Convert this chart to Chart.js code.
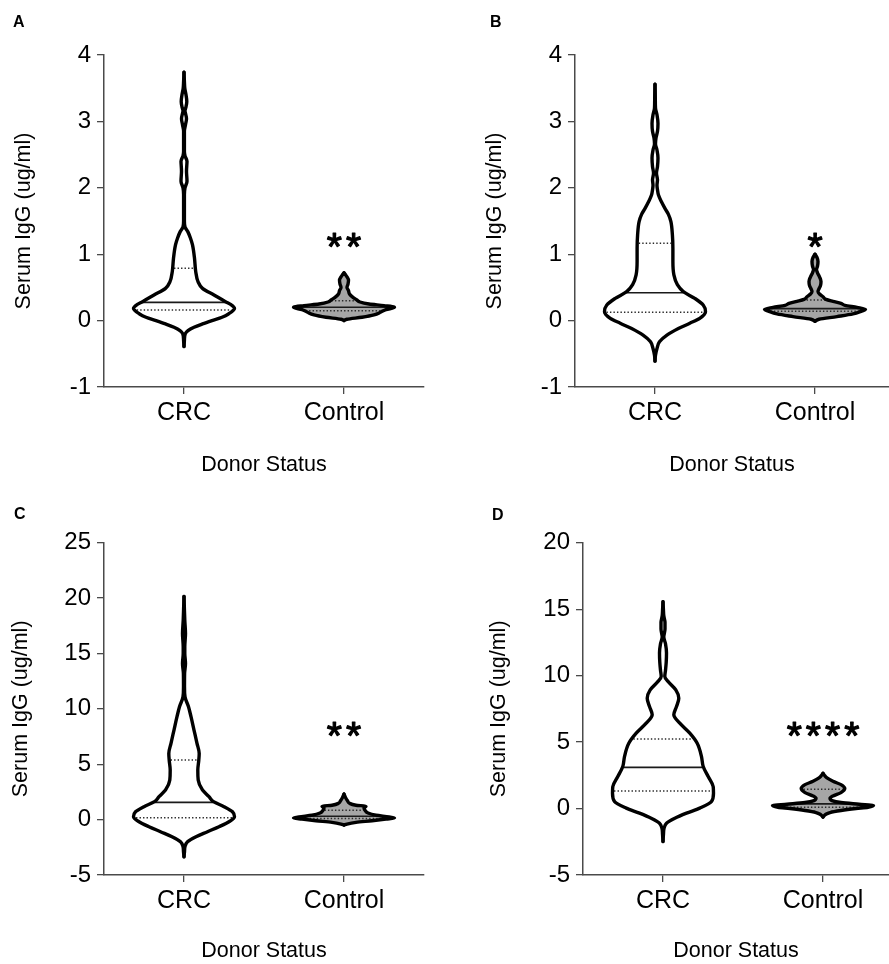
<!DOCTYPE html>
<html><head><meta charset="utf-8">
<script src="https://cdn.jsdelivr.net/npm/chart.js@4/dist/chart.umd.min.js"></script>
<style>
html,body{margin:0;padding:0;background:#fff;width:889px;height:964px;overflow:hidden;}
canvas{position:absolute;}
.lbl{position:absolute;font:bold 16px "Liberation Sans",Arial,sans-serif;line-height:16px;color:#000;}
</style></head><body>
<canvas id="cA" width="445" height="480" style="left:0;top:0"></canvas>
<canvas id="cB" width="444" height="480" style="left:445px;top:0"></canvas>
<canvas id="cC" width="445" height="484" style="left:0;top:480px"></canvas>
<canvas id="cD" width="444" height="484" style="left:445px;top:480px"></canvas>
<div class="lbl" style="left:13px;top:14px">A</div>
<div class="lbl" style="left:490px;top:14px">B</div>
<div class="lbl" style="left:14px;top:506px">C</div>
<div class="lbl" style="left:492px;top:507px">D</div>
<script>
// ---------- data ----------
const categories = ['CRC', 'Control'];
const categoryX = [0.5, 1.5];
const yAxisTitle = 'Serum IgG (ug/ml)';
const xAxisTitle = 'Donor Status';
const panelLetters = ['A', 'B', 'C', 'D'];
const yMin = [-1, -1, -5, -5];
const yMax = [4, 4, 25, 20];
const yStep = [1, 1, 5, 5];
const sigLabels = ['**', '*', '**', '****'];
const sigY = [1.24, 1.24, 8.38, 6.15];

// violin density profiles (value levels and relative density)
const aCrcLevels = [-0.39,-0.3,-0.2,-0.15,-0.1,-0.05,0,0.05,0.1,0.185,0.24,0.285,0.385,0.486,0.587,0.74,0.94,1.14,1.24,1.34,1.41,1.5,1.9,2.0,2.1,2.25,2.4,2.48,2.55,2.85,2.95,3.04,3.12,3.16,3.22,3.3,3.4,3.5,3.6,3.74];
const aCrcDensity = [0,0.4,1.2,4,10,18.5,28,38,44.5,50.5,47,41.5,30,18.5,14,11.7,10.5,8.5,6.5,3.8,1,0.4,0.4,1,3,2.5,3,1,0.4,0.4,1.5,2.5,1.5,1,2,2.8,2,0.8,0.4,0];
const aCtlLevels = [0,0.02,0.05,0.085,0.13,0.165,0.2,0.225,0.25,0.28,0.31,0.35,0.4,0.45,0.5,0.55,0.61,0.66,0.7,0.72];
const aCtlDensity = [0,3,18,30,37,42,50.5,40,25,16,13,9,5.5,4.5,3,4,4.5,3,1,0];
const bCrcLevels = [-0.61,-0.52,-0.42,-0.32,-0.22,-0.12,-0.04,0.034,0.134,0.235,0.335,0.435,0.54,0.69,0.89,1.09,1.29,1.49,1.6,1.69,1.79,1.89,1.97,2.04,2.12,2.22,2.32,2.45,2.57,2.66,2.75,2.85,2.97,3.1,3.2,3.35,3.56];
const bCrcDensity = [0,0.5,2,4.5,12,23.5,35,45,50.8,48.5,40,28.5,22.5,19,18,18,17.5,16,13.5,10,6.5,3.5,2.5,2,2.5,1.5,2.5,3,2,0.5,1,2.5,3,2,0.5,0.3,0];
const bCtlLevels = [-0.01,0.02,0.06,0.1,0.14,0.17,0.2,0.23,0.26,0.29,0.32,0.36,0.4,0.44,0.48,0.53,0.59,0.66,0.72,0.77,0.82,0.89,0.95,1.0];
const bCtlDensity = [0,4,22,38,46,50.5,42,30,26,18,11,8,4.5,3,4,5.5,6,4.5,2.5,1.5,2.5,3,2,0];
const cCrcLevels = [-3.35,-2.9,-2.44,-2.0,-1.54,-1.09,-0.64,-0.19,0.26,0.71,1.17,1.62,2.07,2.67,3.57,4.48,5.38,5.98,6.89,8.09,9.29,10.19,11.09,12.0,13.2,14.1,15.0,15.6,16.8,18.0,19.0,20.15];
const cCrcDensity = [0,0.5,1,3.5,12,23.5,35,45,50.5,48.5,40,29.5,25,18.5,14.2,13.8,14.8,15.2,13,10,7,4.5,1,0.5,0.6,1.5,0.8,0.8,1.5,0.8,0.4,0];
const cCtlLevels = [-0.49,-0.4,-0.25,-0.1,0.05,0.15,0.25,0.4,0.6,0.85,1.05,1.2,1.3,1.47,1.7,2.0,2.3];
const cCtlDensity = [0,3,12,28,42,50.5,45,32,24,21,20,22,12,5.5,3.5,1.5,0];
const dCrcLevels = [-2.48,-1.9,-1.5,-1.1,-0.73,-0.35,0.03,0.53,1.15,1.65,2.41,3.16,3.91,4.91,5.67,6.42,7.05,7.67,8.3,8.93,9.55,9.93,10.4,11.0,11.7,12.4,12.9,13.5,14.0,14.5,15.0,15.56];
const dCrcDensity = [0,0.5,1,3.5,11.8,23.5,36.8,48.5,50.5,50.2,45.2,40.2,38.5,34.2,26.8,16.8,10.8,13.5,15.8,12.8,5.2,1.8,2.5,3.2,3.5,2.5,0.8,2,2,0.8,0.4,0];
const dCtlLevels = [-0.64,-0.45,-0.3,-0.15,0.0,0.1,0.22,0.32,0.45,0.6,0.77,0.95,1.2,1.52,1.8,2.05,2.3,2.45,2.65];
const dCtlDensity = [0,2.5,7,18,33,45,50.5,36,18,9,7,10,18,21.8,18,10,4,2,0];

// quartiles / medians [CRC, Control]
const aQ1 = [0.16, 0.15], aMedian = [0.275, 0.2], aQ3 = [0.79, 0.30];
const bQ1 = [0.125, 0.14], bMedian = [0.42, 0.18], bQ3 = [1.164, 0.31];
const cQ1 = [0.17, 0.1], cMedian = [1.56, 0.3], cQ3 = [5.38, 0.85];
const dQ1 = [1.32, 0.1], dMedian = [3.1, 0.35], dQ3 = [5.23, 1.45];

// ---------- style / layout ----------
const FONT = '"Liberation Sans", Arial, sans-serif';
const AXIS_COLOR = '#4a4a4a';
const FILLS = ['#ffffff', '#a6a6a6'];
const VIOLIN_HALF = 0.3156; // max half-width in x units
const layouts = [
  {id: 'cA', xMax: 2, padL: 0, yW: 104, titlePad: 11.5, padT: 55, padR: 21, xH: 93, xTitlePad: 2},
  {id: 'cB', xMax: 1.9625, padL: 26, yW: 104, titlePad: 11.5, padT: 55, padR: 0, xH: 93, xTitlePad: 2},
  {id: 'cC', xMax: 2, padL: 0, yW: 104, titlePad: 8.5, padT: 62.7, padR: 21, xH: 89, xTitlePad: 0},
  {id: 'cD', xMax: 1.9125, padL: 29.5, yW: 108.5, titlePad: 11.5, padT: 62.7, padR: 0, xH: 89, xTitlePad: 0}
];

const violinSets = [
  [[aCrcLevels, aCrcDensity], [aCtlLevels, aCtlDensity]],
  [[bCrcLevels, bCrcDensity], [bCtlLevels, bCtlDensity]],
  [[cCrcLevels, cCrcDensity], [cCtlLevels, cCtlDensity]],
  [[dCrcLevels, dCrcDensity], [dCtlLevels, dCtlDensity]]
];
const statSets = [[aQ1, aMedian, aQ3], [bQ1, bMedian, bQ3], [cQ1, cMedian, cQ3], [dQ1, dMedian, dQ3]];

function widthAt(levels, dens, v) {
  const mx = Math.max(...dens);
  for (let i = 0; i < levels.length - 1; i++) {
    if (v >= levels[i] && v <= levels[i + 1]) {
      const t = (v - levels[i]) / (levels[i + 1] - levels[i]);
      return (dens[i] + t * (dens[i + 1] - dens[i])) / mx;
    }
  }
  return 0;
}

function buildDatasets(p) {
  const ds = [];
  violinSets[p].forEach(([levels, dens], k) => {
    const cx = categoryX[k];
    const mx = Math.max(...dens);
    const base = {type: 'line', pointRadius: 0, borderColor: '#000', borderWidth: 3.4,
      cubicInterpolationMode: 'monotone', order: 0, borderJoinStyle: 'round', borderCapStyle: 'round'};
    ds.push(Object.assign({}, base, {
      data: levels.map((v, i) => ({x: cx + dens[i] / mx * VIOLIN_HALF, y: v})), fill: false}));
    ds.push(Object.assign({}, base, {
      data: levels.map((v, i) => ({x: cx - dens[i] / mx * VIOLIN_HALF, y: v})),
      fill: '-1', backgroundColor: FILLS[k]}));
    const [q1, med, q3] = statSets[p];
    [[q1[k], true], [med[k], false], [q3[k], true]].forEach(([v, dotted]) => {
      const hw = Math.max(widthAt(levels, dens, v) * VIOLIN_HALF - 0.009, 0);
      ds.push({type: 'line', order: 1, pointRadius: 0, fill: false, tension: 0,
        borderColor: dotted ? '#2a2a2a' : '#1a1a1a', borderWidth: dotted ? 1.5 : 1.6,
        borderDash: dotted ? [1.4, 2.1] : [],
        data: [{x: cx - hw, y: v}, {x: cx + hw, y: v}]});
    });
  });
  return ds;
}

const sigPlugin = {
  id: 'sig',
  afterDatasetsDraw(chart, args, opts) {
    const {ctx, scales} = chart;
    const px = scales.x.getPixelForValue(categoryX[1]);
    const py = scales.y.getPixelForValue(opts.y);
    const size = 39, gap = 4;
    ctx.save();
    ctx.fillStyle = '#000';
    ctx.strokeStyle = '#000';
    ctx.lineWidth = 1.2;
    ctx.lineJoin = 'round';
    ctx.font = size + 'px ' + FONT;
    ctx.letterSpacing = gap + 'px';
    ctx.textAlign = 'center';
    ctx.textBaseline = 'alphabetic';
    const bx = px + gap / 2, by = py + 0.56 * size;
    ctx.fillText(opts.text, bx, by);
    ctx.strokeText(opts.text, bx, by);
    ctx.restore();
  }
};

layouts.forEach((L, p) => {
  const ctx = document.getElementById(L.id).getContext('2d');
  new Chart(ctx, {
    type: 'line',
    data: {datasets: buildDatasets(p)},
    plugins: [sigPlugin],
    options: {
      responsive: false, animation: false, indexAxis: 'y',
      layout: {padding: {left: L.padL, top: L.padT, right: L.padR, bottom: 0}},
      plugins: {
        legend: {display: false}, tooltip: {enabled: false},
        filler: {drawTime: 'beforeDatasetsDraw'},
        sig: {text: sigLabels[p], y: sigY[p]}
      },
      scales: {
        x: {
          type: 'linear', position: 'bottom', min: 0, max: L.xMax,
          afterBuildTicks: (s) => { s.ticks = categoryX.map(v => ({value: v})); },
          afterFit: (s) => { s.height = L.xH; },
          ticks: {color: '#000', font: {family: FONT, size: 25}, padding: 4, maxRotation: 0, autoSkip: false,
            callback: (v) => { const i = categoryX.indexOf(v); return i >= 0 ? categories[i] : ''; }},
          grid: {display: true, drawOnChartArea: false, drawTicks: true, tickLength: 7, color: AXIS_COLOR, lineWidth: 1.3},
          border: {display: true, color: AXIS_COLOR, width: 1.5},
          title: {display: true, text: xAxisTitle, color: '#000', font: {family: FONT, size: 21.5}, padding: {top: 0, bottom: L.xTitlePad}}
        },
        y: {
          type: 'linear', position: 'left', min: yMin[p], max: yMax[p],
          afterFit: (s) => { s.width = L.yW; },
          ticks: {stepSize: yStep[p], color: '#000', font: {family: FONT, size: 24}, padding: 6},
          grid: {display: true, drawOnChartArea: false, drawTicks: true, tickLength: 7, color: AXIS_COLOR, lineWidth: 1.3},
          border: {display: true, color: AXIS_COLOR, width: 1.5},
          title: {display: true, text: yAxisTitle, color: '#000', font: {family: FONT, size: 21.5}, padding: {top: L.titlePad, bottom: 0}}
        }
      }
    }
  });
});
</script>
</body></html>
